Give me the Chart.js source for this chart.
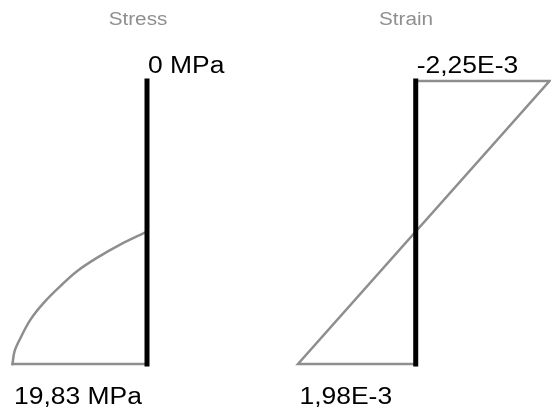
<!DOCTYPE html>
<html>
<head>
<meta charset="utf-8">
<script src="https://cdn.jsdelivr.net/npm/chart.js@4/dist/chart.umd.min.js"></script>
<style>
  html, body { margin: 0; padding: 0; background: #fff; }
  #wrap { position: relative; width: 551px; height: 413px; }
  canvas { position: absolute; top: 0; }
</style>
</head>
<body>
<div id="wrap">
  <canvas id="stress" width="275" height="413" style="left:0"></canvas>
  <canvas id="strain" width="276" height="413" style="left:275px"></canvas>
</div>
<script>
// Daten – Querschnittstiefe 0 (oben) bis 1 (unten)
const sectionDepth = [0, 1];

const stressCurveDepth = [0.532, 0.578, 0.625, 0.672, 0.725, 0.784, 0.843, 0.908, 0.955, 1.0];
const stressCurveValues = [0, 3.96, 7.39, 10.32, 12.78, 15.23, 17.18, 18.65, 19.53, 19.83];
const stressTop = 0;
const stressBottom = 19.83;

const strainTop = -2.25e-3;
const strainBottom = 1.98e-3;

const titles = ["Stress", "Strain"];
const stressLabels = ["0 MPa", "19,83 MPa"];
const strainLabels = ["-2,25E-3", "1,98E-3"];

const GRAY = "#8e8e8e";
const STRETCH = 1.15;

function pts(xs, ys) {
  return xs.map((x, i) => ({ x, y: ys[i] }));
}

function stretchedText(ctx, text, x, y) {
  ctx.save();
  ctx.translate(x, y);
  ctx.scale(STRETCH, 1);
  ctx.fillText(text, 0, 0);
  ctx.restore();
}

// Beschriftungen direkt über die Skalen platzieren
function labelPlugin(title, titleX, labels, bottomValue) {
  return {
    id: "labels",
    afterDraw(chart) {
      const ctx = chart.ctx;
      const xs = chart.scales.x, ys = chart.scales.y;
      ctx.save();
      ctx.textBaseline = "alphabetic";
      ctx.textAlign = "center";
      ctx.fillStyle = "#8f8f8f";
      ctx.font = "18px 'Liberation Sans', Arial, sans-serif";
      stretchedText(ctx, title, titleX, 25);

      ctx.textAlign = "left";
      ctx.fillStyle = "#000";
      ctx.font = "23px 'Liberation Sans', Arial, sans-serif";
      stretchedText(ctx, labels[0], xs.getPixelForValue(0) + 1, ys.getPixelForValue(sectionDepth[0]) - 8);
      stretchedText(ctx, labels[1], xs.getPixelForValue(bottomValue) + 1.5, ys.getPixelForValue(sectionDepth[1]) + 40);
      ctx.restore();
    }
  };
}

function lineSet(data, color, width, smooth) {
  const ds = {
    data,
    borderColor: color,
    borderWidth: width,
    borderCapStyle: "square",
    pointRadius: 0,
    fill: false,
    clip: false
  };
  if (smooth) ds.cubicInterpolationMode = "monotone";
  return ds;
}

function renderPanel(id, datasets, xMin, xMax, padding, plugin) {
  const canvas = document.getElementById(id);
  new Chart(canvas.getContext("2d"), {
    type: "line",
    data: { datasets },
    options: {
      indexAxis: "y",   // Tiefe ist die Laufrichtung
      responsive: false,
      animation: false,
      layout: { padding },
      plugins: { legend: { display: false }, title: { display: false }, tooltip: { enabled: false } },
      scales: {
        x: { type: "linear", min: xMin, max: xMax, reverse: true, display: false },
        y: { type: "linear", min: sectionDepth[0], max: sectionDepth[1], reverse: true, display: false }
      }
    },
    plugins: [plugin]
  });
}

// Spannung
renderPanel("stress", [
  lineSet(pts([0, 0], sectionDepth), "#000", 5),
  lineSet(pts(stressCurveValues, stressCurveDepth), GRAY, 2.5, true),
  lineSet(pts([stressBottom, 0], [sectionDepth[1], sectionDepth[1]]), GRAY, 2.5)
], stressTop, stressBottom, { left: 12.5, right: 128, top: 81, bottom: 49 },
  labelPlugin(titles[0], 138, stressLabels, stressBottom));

// Dehnung
renderPanel("strain", [
  lineSet(pts([0, 0], sectionDepth), "#000", 5),
  lineSet(pts([0, strainTop, strainBottom, 0], [sectionDepth[0], sectionDepth[0], sectionDepth[1], sectionDepth[1]]), GRAY, 2.5)
], strainTop, strainBottom, { left: 23, right: 1.5, top: 81, bottom: 49 },
  labelPlugin(titles[1], 131, strainLabels, strainBottom));
</script>
</body>
</html>
